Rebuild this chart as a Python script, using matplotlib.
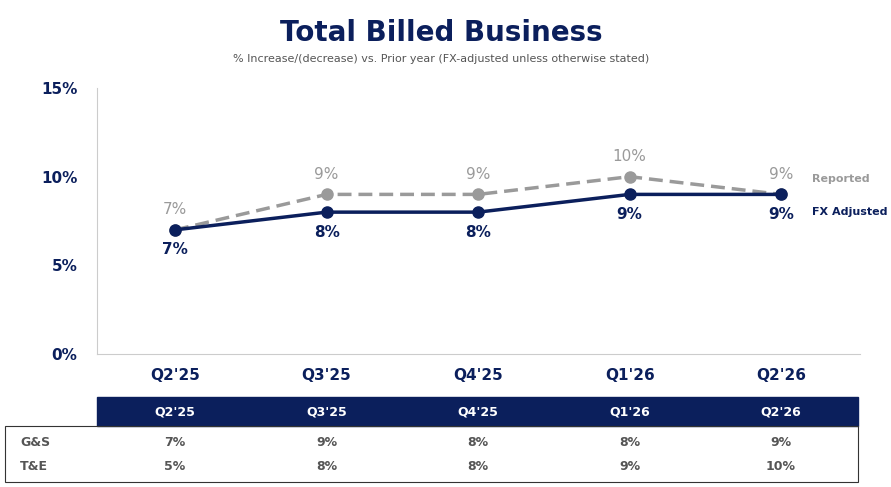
import matplotlib
matplotlib.use("Agg")
import matplotlib.pyplot as plt
from matplotlib.patches import Rectangle

quarters = ["Q2'25", "Q3'25", "Q4'25", "Q1'26", "Q2'26"]
reported = [7, 9, 9, 10, 9]
fx_adjusted = [7, 8, 8, 9, 9]
gs = ["7%", "9%", "8%", "8%", "9%"]
te = ["5%", "8%", "8%", "9%", "10%"]

NAVY = "#0b1f5c"
GREY = "#9a9a9a"
plt.rcParams['font.family'] = ['DejaVu Sans']

W, H = 891, 487
fig = plt.figure(figsize=(W/100, H/100), dpi=100)
ax = fig.add_axes([97/W, 1-354/H, (860-97)/W, (354-88)/H])
x = list(range(len(quarters)))
ax.plot(x, reported, color=GREY, lw=2.5, ls=(0, (4, 2)), marker='o', ms=8, clip_on=False)
ax.plot(x, fx_adjusted, color=NAVY, lw=2.5, marker='o', ms=8, zorder=3, clip_on=False)
for i in x:
    ax.annotate(f"{reported[i]}%", (i, reported[i]), xytext=(0, 9), textcoords='offset points',
                ha='center', va='bottom', color=GREY, fontsize=11)
    ax.annotate(f"{fx_adjusted[i]}%", (i, fx_adjusted[i]), xytext=(0, -9), textcoords='offset points',
                ha='center', va='top', color=NAVY, fontsize=11, fontweight='bold')
ax.text(4.2, 9.85, "Reported", color=GREY, fontsize=8, fontweight='bold', va='center')
ax.text(4.2, 8.0, "FX Adjusted", color=NAVY, fontsize=8, fontweight='bold', va='center')
ax.set_xlim(-0.515, 4.52)
ax.set_ylim(0, 15)
ax.set_yticks([0, 5, 10, 15])
ax.set_yticklabels(["0%", "5%", "10%", "15%"], color=NAVY, fontsize=11, fontweight='bold')
ax.set_xticks(x)
ax.set_xticklabels(quarters, color=NAVY, fontsize=11, fontweight='bold')
ax.tick_params(length=0, pad=10)
ax.tick_params(axis='y', pad=14)
for s in ['top', 'right']:
    ax.spines[s].set_visible(False)
for s in ['left', 'bottom']:
    ax.spines[s].set_color('#cccccc')

fig.text(441/W, 1-33/H, "Total Billed Business", ha='center', va='center',
         fontsize=20, fontweight='bold', color=NAVY)
fig.text(441/W, 1-59/H, "% Increase/(decrease) vs. Prior year (FX-adjusted unless otherwise stated)",
         ha='center', va='center', fontsize=8, color='#555555')

tx = fig.transFigure
fig.patches.append(Rectangle((97/W, 1-426/H), (858-97)/W, 29/H, transform=tx,
                             color=NAVY, zorder=0))
fig.patches.append(Rectangle((5/W, 1-482/H), (858-5)/W, 56/H, transform=tx,
                             fill=False, ec='#333333', lw=0.8, zorder=0))
for i, q in enumerate(quarters):
    px = 175 + i*151.5
    fig.text(px/W, 1-412/H, q, ha='center', va='center', color='white', fontsize=9, fontweight='bold')
    fig.text(px/W, 1-442/H, gs[i], ha='center', va='center', color='#555555', fontsize=9, fontweight='bold')
    fig.text(px/W, 1-466/H, te[i], ha='center', va='center', color='#555555', fontsize=9, fontweight='bold')
fig.text(20/W, 1-442/H, "G&S", va='center', color='#555555', fontsize=9, fontweight='bold')
fig.text(20/W, 1-466/H, "T&E", va='center', color='#555555', fontsize=9, fontweight='bold')

fig.savefig("out.png", dpi=100)
